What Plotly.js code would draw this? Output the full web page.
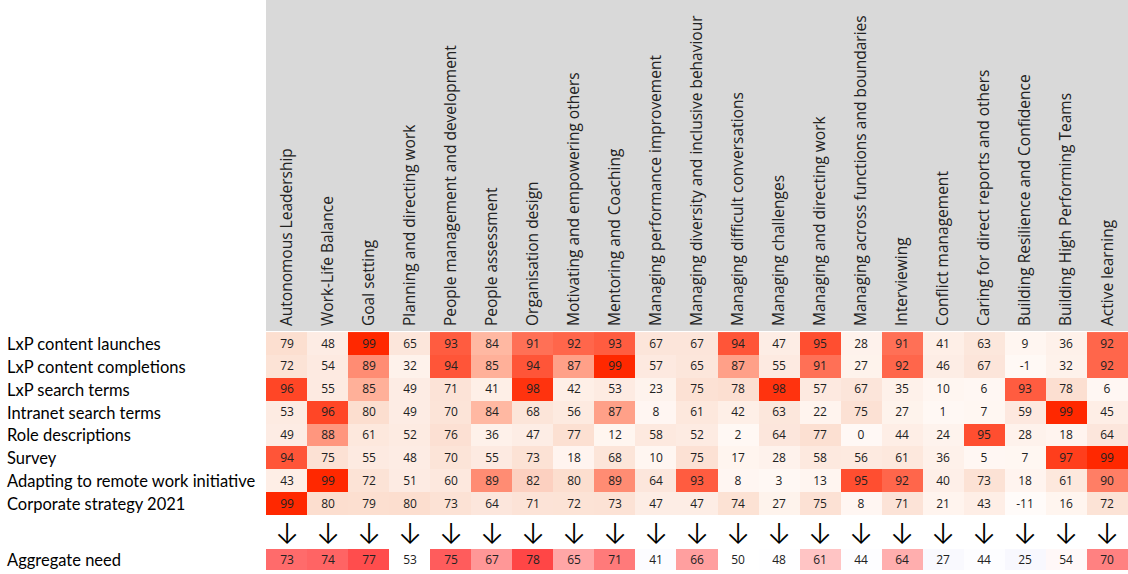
<!DOCTYPE html>
<html>
<head>
<meta charset="utf-8">
<script src="https://cdn.plot.ly/plotly-3.0.1.min.js"></script>
<style>html,body{margin:0;padding:0;background:#fff;}#chart{width:1128px;height:574px;}</style>
</head>
<body>
<div id="chart"></div>
<script>
const columns = ["Autonomous Leadership","Work-Life Balance","Goal setting","Planning and directing work","People management and development","People assessment","Organisation design","Motivating and empowering others","Mentoring and Coaching","Managing performance improvement","Managing diversity and inclusive behaviour","Managing difficult conversations","Managing challenges","Managing and directing work","Managing across functions and boundaries","Interviewing","Conflict management","Caring for direct reports and others","Building Resilience and Confidence","Building High Performing Teams","Active learning"];

const rowNames = ["LxP content launches","LxP content completions","LxP search terms","Intranet search terms","Role descriptions","Survey","Adapting to remote work initiative","Corporate strategy 2021"];

const lxpLaunches     = [79,48,99,65,93,84,91,92,93,67,67,94,47,95,28,91,41,63,9,36,92];
const lxpCompletions  = [72,54,89,32,94,85,94,87,99,57,65,87,55,91,27,92,46,67,-1,32,92];
const lxpSearch       = [96,55,85,49,71,41,98,42,53,23,75,78,98,57,67,35,10,6,93,78,6];
const intranetSearch  = [53,96,80,49,70,84,68,56,87,8,61,42,63,22,75,27,1,7,59,99,45];
const roleDescriptions= [49,88,61,52,76,36,47,77,12,58,52,2,64,77,0,44,24,95,28,18,64];
const survey          = [94,75,55,48,70,55,73,18,68,10,75,17,28,58,56,61,36,5,7,97,99];
const remoteWork      = [43,99,72,51,60,89,82,80,89,64,93,8,3,13,95,92,40,73,18,61,90];
const corpStrategy    = [99,80,79,80,73,64,71,72,73,47,47,74,27,75,8,71,21,43,-11,16,72];

const aggregateLabel = "Aggregate need";
const aggregateNeed  = [73,74,77,53,75,67,78,65,71,41,66,50,48,61,44,64,27,44,25,54,70];

const zTop = [lxpLaunches,lxpCompletions,lxpSearch,intranetSearch,roleDescriptions,survey,remoteWork,corpStrategy];
const textTop = zTop.map(r => r.map(v => String(v)));
const textAgg = [aggregateNeed.map(v => String(v))];

// colour scale for source rows
const topMin = -11, topMax = 99;
const topStops = [
  [-11,'rgb(255,251,249)'],[10,'rgb(255,246,241)'],[35,'rgb(254,241,234)'],
  [55,'rgb(253,234,225)'],[70,'rgb(252,228,216)'],[80,'rgb(252,222,207)'],
  [82,'rgb(252,208,192)'],[84,'rgb(255,184,162)'],[87,'rgb(255,160,136)'],
  [89,'rgb(255,140,115)'],[91,'rgb(255,112,86)'],[93,'rgb(255,92,64)'],
  [95,'rgb(255,78,48)'],[97,'rgb(255,62,28)'],[99,'rgb(255,40,0)']
];
const topScale = topStops.map(s => [(s[0]-topMin)/(topMax-topMin), s[1]]);

const aggMin = 25, aggMax = 78;
const aggStops = [[25,'rgb(248,248,254)'],[50,'rgb(255,255,255)'],[53,'rgb(255,255,255)'],[78,'rgb(255,70,70)']];
const aggScale = aggStops.map(s => [(s[0]-aggMin)/(aggMax-aggMin), s[1]]);

const cellFont = {family:'Open Sans, sans-serif', size:12, color:'#222'};

const traces = [
  {
    type:'heatmap', x:columns, y:rowNames, z:zTop, text:textTop,
    colorscale:topScale, zmin:topMin, zmax:topMax, showscale:false,
    texttemplate:'%{text}', textfont:cellFont, xaxis:'x', yaxis:'y', hoverinfo:'skip'
  },
  {
    type:'heatmap', x:columns, y:[aggregateLabel], z:[aggregateNeed], text:textAgg,
    colorscale:aggScale, zmin:aggMin, zmax:aggMax, showscale:false,
    texttemplate:'%{text}', textfont:cellFont, xaxis:'x2', yaxis:'y2', hoverinfo:'skip'
  }
];

const H = 574, T = 331, B = 2, L = 266;
const plotH = H - T - B;
const topDomainLow = (H - B - 515) / plotH;
const aggDomainHigh = (H - B - 549) / plotH;

const annotations = [];
const labelX = -(L - 5) / (1128 - L);
const labelFont = {family:'Lato, sans-serif', size:16.5, color:'#000'};
rowNames.forEach(r => annotations.push({
  xref:'paper', yref:'y', x:labelX, y:r, text:r, showarrow:false, yshift:-0.5,
  xanchor:'left', yanchor:'middle', font:labelFont
}));
annotations.push({
  xref:'paper', yref:'y2', x:labelX, y:aggregateLabel, text:aggregateLabel, showarrow:false, yshift:-0.5,
  xanchor:'left', yanchor:'middle', font:labelFont
});
const arrowY = (H - B - 533) / plotH;
columns.forEach(c => annotations.push({
  xref:'x', yref:'paper', x:c, y:arrowY, text:'↓', showarrow:false,
  xanchor:'center', yanchor:'middle', font:{family:'Inter, sans-serif', size:29, weight:300, color:'#000'}
}));

const layout = {
  width:1128, height:574,
  margin:{l:L, r:0, t:T, b:B, pad:0},
  paper_bgcolor:'#fff', plot_bgcolor:'#fff',
  showlegend:false,
  xaxis:{side:'top', type:'category', tickangle:-90, ticks:'', showgrid:false, zeroline:false, showline:false,
         tickfont:{family:'Open Sans, sans-serif', size:15.5, color:'#222'}, anchor:'y', domain:[0,1],
         ticklabelstandoff:4},
  yaxis:{type:'category', autorange:'reversed', showticklabels:false, ticks:'', showgrid:false, zeroline:false,
         domain:[topDomainLow,1], anchor:'x'},
  xaxis2:{type:'category', showticklabels:false, ticks:'', showgrid:false, zeroline:false, anchor:'y2', matches:'x'},
  yaxis2:{type:'category', showticklabels:false, ticks:'', showgrid:false, zeroline:false,
          domain:[0,aggDomainHigh], anchor:'x2'},
  shapes:[{type:'rect', xref:'paper', yref:'paper', x0:0, x1:1, y0:1, y1:1 + T/plotH,
           fillcolor:'#d9d9d9', line:{width:0}, layer:'below'}],
  annotations:annotations
};

Plotly.newPlot('chart', traces, layout, {displayModeBar:false, staticPlot:true});
</script>
</body>
</html>
